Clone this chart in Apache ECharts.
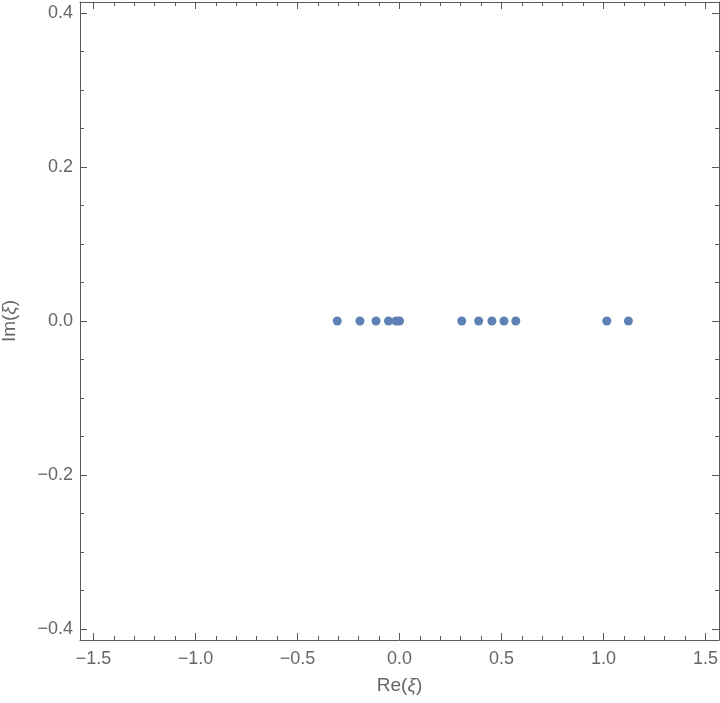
<!DOCTYPE html>
<html>
<head>
<meta charset="utf-8">
<script src="https://cdn.jsdelivr.net/npm/echarts@6/dist/echarts.min.js"></script>
<style>
    html, body { margin: 0; padding: 0; background: #fff; }
    #chart { width: 720px; height: 703px; }
</style>
</head>
<body>
<div id="chart"></div>
<script>
// roots in the complex plane
const reXi = [-0.305, -0.194, -0.115, -0.054, -0.017, 0.0, 0.305, 0.388, 0.453, 0.512, 0.570, 1.016, 1.122];
const imXi = [0, 0, 0, 0, 0, 0, 0, 0, 0, 0, 0, 0, 0];

const xMajor = [-1.5, -1.0, -0.5, 0.0, 0.5, 1.0, 1.5];
const xMinor = [-1.4, -1.3, -1.2, -1.1, -0.9, -0.8, -0.7, -0.6, -0.4, -0.3, -0.2, -0.1,
    0.1, 0.2, 0.3, 0.4, 0.6, 0.7, 0.8, 0.9, 1.1, 1.2, 1.3, 1.4];
const yMajor = [-0.4, -0.2, 0.0, 0.2, 0.4];
const yMinor = [-0.35, -0.3, -0.25, -0.15, -0.1, -0.05, 0.05, 0.1, 0.15, 0.25, 0.3, 0.35];

const xRange = [-1.566, 1.566];
const yRange = [-0.414, 0.414];

const frameColor = '#5a5a5a';
const textColor = '#666666';
const fontFamily = '"Liberation Sans", Arial, sans-serif';

let fmt = (v) => {
    let s = Math.abs(v).toFixed(1);
    return v < -1e-9 ? '\u2212' + s : s;
};

// one axis per tick set, so majors and minors get their own length
function makeAxis(position, range, ticks, len, withLine, withLabels) {
    return {
        type: 'value',
        position: position,
        min: range[0],
        max: range[1],
        offset: 0,
        splitLine: { show: false },
        axisLine: {
            show: withLine,
            onZero: false,
            lineStyle: { color: frameColor, width: 1 }
        },
        axisTick: {
            show: true,
            inside: true,
            length: len,
            customValues: ticks,
            lineStyle: { color: frameColor, width: 1 }
        },
        axisLabel: {
            show: withLabels,
            customValues: ticks,
            formatter: fmt,
            color: textColor,
            fontFamily: fontFamily,
            fontSize: 18,
            margin: (position === 'bottom' || position === 'top') ? 10 : 7
        }
    };
}

const nameStyle = {
    color: textColor,
    fontFamily: fontFamily,
    fontSize: 19,
    rich: {
        it: { fontStyle: 'italic', color: textColor, fontFamily: fontFamily, fontSize: 19 }
    }
};

const xAxes = [
    makeAxis('bottom', xRange, xMajor, 7, true, true),
    makeAxis('bottom', xRange, xMinor, 4, false, false),
    makeAxis('top', xRange, xMajor, 7, true, false),
    makeAxis('top', xRange, xMinor, 4, false, false)
];
xAxes[0].name = 'Re({it|\u03BE})';
xAxes[0].nameLocation = 'middle';
xAxes[0].nameGap = 36;
xAxes[0].nameTextStyle = nameStyle;

const yAxes = [
    makeAxis('left', yRange, yMajor, 7, true, true),
    makeAxis('left', yRange, yMinor, 4, false, false),
    makeAxis('right', yRange, yMajor, 7, true, false),
    makeAxis('right', yRange, yMinor, 4, false, false)
];
yAxes[0].name = 'Im({it|\u03BE})';
yAxes[0].nameLocation = 'middle';
yAxes[0].nameGap = 61;
yAxes[0].nameTextStyle = nameStyle;

const points = reXi.map((x, i) => [x, imXi[i]]);

const chart = echarts.init(document.getElementById('chart'));
chart.setOption({
    animation: false,
    backgroundColor: '#ffffff',
    grid: { left: 80, right: 1, top: 2, bottom: 63, containLabel: false, outerBoundsMode: 'none' },
    xAxis: xAxes,
    yAxis: yAxes,
    series: [{
        type: 'scatter',
        xAxisIndex: 0,
        yAxisIndex: 0,
        data: points,
        symbol: 'circle',
        symbolSize: 9,
        itemStyle: { color: '#5E81B5', opacity: 1 }
    }]
});
</script>
</body>
</html>
